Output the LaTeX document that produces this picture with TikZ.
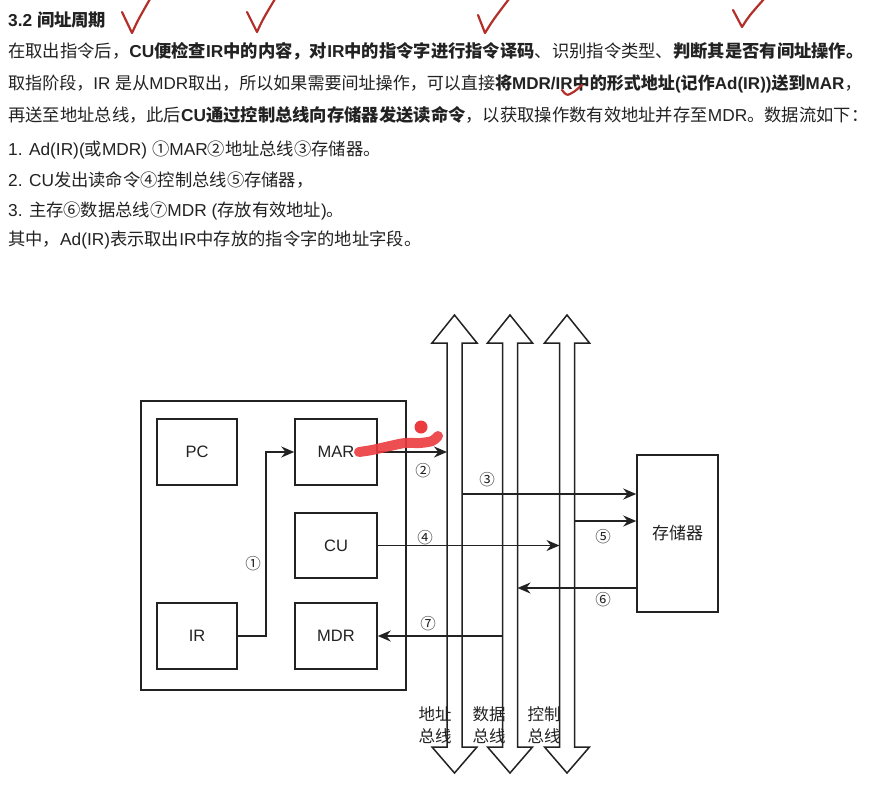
\documentclass[tikz,border=0pt]{standalone}
\usepackage{fontspec}
\setmainfont{Liberation Sans}
\newfontfamily\cjk{Noto Sans CJK SC}
\usetikzlibrary{arrows.meta}
% automatic switch to the CJK font for CJK characters
\XeTeXinterchartokenstate=1
\newXeTeXintercharclass\cjkclass
\newcount\cjkcnt
\newcommand\cjkrange[2]{\cjkcnt=#1\relax
  \loop\XeTeXcharclass\cjkcnt=\cjkclass\advance\cjkcnt by 1
  \ifnum\cjkcnt<#2\repeat}
\cjkrange{"4E00}{"A000}
\cjkrange{"3000}{"3040}
\cjkrange{"FF00}{"FFF0}
\cjkrange{"2460}{"2500}
\XeTeXinterchartoks 0 \cjkclass = {\cjk}
\XeTeXinterchartoks 4095 \cjkclass = {\cjk}
\XeTeXinterchartoks \cjkclass 0 = {\rmfamily}
\XeTeXinterchartoks \cjkclass 4095 = {\rmfamily}
\definecolor{ink}{HTML}{222222}
\definecolor{pen}{HTML}{B3302A}
\definecolor{marker}{HTML}{EC3B3F}
\begin{document}
\begin{tikzpicture}[x=1pt,y=-1pt,
  txt/.style={anchor=base west,inner sep=0pt,text=ink,font=\fontsize{17.3}{20}\selectfont},
  box/.style={draw=ink,line width=1.5pt,inner sep=0pt,font=\fontsize{16.5}{20}\selectfont,text=ink},
  num/.style={inner sep=0pt,text=ink,font=\fontsize{15.5}{18}\selectfont},
  buslabel/.style={inner sep=0pt,text=ink,align=center,font=\fontsize{16.5}{22}\selectfont},
  bus/.style={draw=ink,line width=1.5pt,fill=white,line join=miter},
  arr/.style={draw=ink,line width=1.5pt,-{Stealth[length=13pt,width=11pt]}},
  check/.style={draw=pen,line width=2.2pt,line cap=round,line join=round}]
\useasboundingbox (0,0) rectangle (872,784);
\fill[white] (0,0) rectangle (872,784);

% ---------- text ----------
\node[txt] (h)  at (8,27)  {\textbf{3.2 间址周期}};
\node[txt] (l1) at (8,57)  {在取出指令后，\textbf{CU便检查IR中的内容，对IR中的指令字进行指令译码}、识别指令类型、\textbf{判断其是否有间址操作。}};
\node[txt,font=\fontsize{17.05}{20}\selectfont] (l2) at (8,89)  {取指阶段，IR 是从MDR取出，所以如果需要间址操作，可以直接\textbf{将MDR/IR中的形式地址(记作Ad(IR))送到MAR}\makebox[0.4em][l]{，}};
\node[txt] (l3) at (8,121) {再送至地址总线，此后\textbf{CU通过控制总线向存储器发送读命令}，以获取操作数有效地址并存至MDR。数据流如下：};
\node[txt] (l4) at (8,155) {1. Ad(IR)(或MDR) ①MAR②地址总线③存储器。};
\node[txt] (l5) at (8,186) {2. CU发出读命令④控制总线⑤存储器，};
\node[txt] (l6) at (8,216) {3. 主存⑥数据总线⑦MDR (存放有效地址)。};
\node[txt] (l7) at (8,245) {其中，Ad(IR)表示取出IR中存放的指令字的地址字段。};

% ---------- buses ----------
\foreach \c in {454.5,510,567}{
  \draw[bus] (\c,315) -- (\c+22.5,343) -- (\c+7.5,343) -- (\c+7.5,747) -- (\c+22.5,747)
    -- (\c,773) -- (\c-22.5,747) -- (\c-7.5,747) -- (\c-7.5,343) -- (\c-22.5,343) -- cycle;
}
\coordinate (abL) at (447,0);  \coordinate (abR) at (462,0);
\coordinate (dbL) at (502.5,0);\coordinate (dbR) at (517.5,0);
\coordinate (cbL) at (559.5,0);\coordinate (cbR) at (574.5,0);

% ---------- CPU ----------
\node[box,minimum width=265,minimum height=289] (cpu) at (273.5,545.5) {};
\node[box,minimum width=80,minimum height=66] (pc)  at (197,452)   {PC};
\node[box,minimum width=82,minimum height=66] (mar) at (336,452)   {MAR};
\node[box,minimum width=82,minimum height=65] (cu)  at (336,545.5) {CU};
\node[box,minimum width=80,minimum height=66] (ir)  at (197,636)   {IR};
\node[box,minimum width=82,minimum height=66] (mdr) at (336,636)   {MDR};
\node[box,minimum width=81,minimum height=157,font=\fontsize{17}{20}\selectfont] (mem) at (677.5,533.5) {存储器};

% ---------- connectors ----------
\coordinate (k1) at (266,636);
\draw[arr] (ir.east) -- (k1) |- (mar.west);
\draw[arr] (mar.east) -- (mar.east -| abL);
\coordinate (s3) at (462,494);
\draw[arr] (s3) -- (s3 -| mem.west);
\draw[arr] (cu.east) -- (cu.east -| cbL);
\coordinate (s5) at (574.5,521);
\draw[arr] (s5) -- (s5 -| mem.west);
\coordinate (m6) at (637,588);
\draw[arr] (m6) -- (m6 -| dbR);
\draw[arr] (mdr.east -| dbL) -- (mdr.east);

% ---------- numbers ----------
\node[num] (n1) at (253,564) {①};
\node[num] (n2) at (423,471) {②};
\node[num] (n3) at (487,480) {③};
\node[num] (n4) at (425,538) {④};
\node[num] (n5) at (603,537) {⑤};
\node[num] (n6) at (603,600) {⑥};
\node[num] (n7) at (428,624) {⑦};

% ---------- bus labels ----------
\node[buslabel] (bl1) at (435,725) {地址\\总线};
\node[buslabel] (bl2) at (489,725) {数据\\总线};
\node[buslabel] (bl3) at (544,725) {控制\\总线};

% ---------- handwritten marks ----------
\draw[check] (122,12) -- (132,33) .. controls (138,20) .. (150,-1);
\draw[check] (247,12) -- (257,32) .. controls (263,19) .. (275,-1);
\draw[check] (478,15) -- (485,33) .. controls (493,20) .. (509,-1);
\draw[check] (733,10) -- (742,27) .. controls (749,16) .. (764,-1);
\draw[check] (562,90) .. controls (565,94) and (567,96) .. (570,94) .. controls (574,92) .. (582,85);
\draw[draw=marker,line width=10pt,line cap=round,line join=round,opacity=0.9]
  plot[smooth] coordinates {(359,452) (372,450) (390,446) (405,443) (420,443) (432,441) (438,436)};
\fill[marker] (421,427) circle (6.5);
\end{tikzpicture}
\end{document}
